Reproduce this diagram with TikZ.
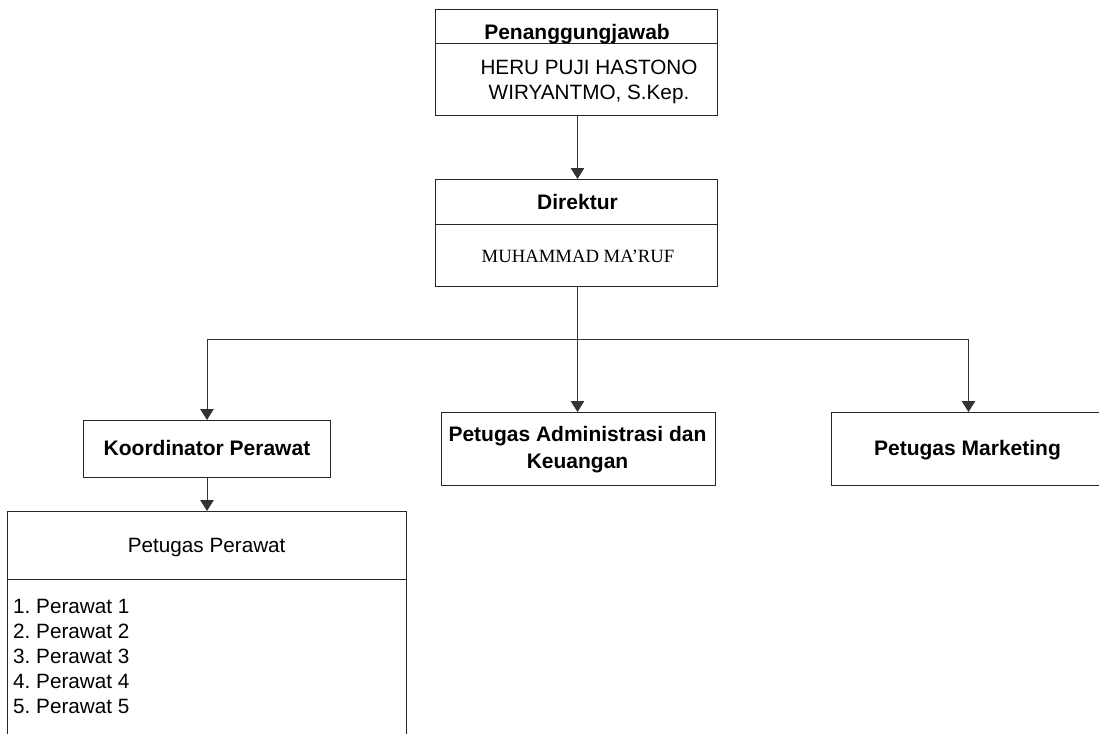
\documentclass[tikz,border=0pt]{standalone}
\usepackage{fontspec}
\setmainfont{Liberation Sans}
\newfontfamily\tnr{Liberation Serif}
\usetikzlibrary{arrows.meta}
\frenchspacing
\begin{document}
\begin{tikzpicture}[x=1pt,y=-1pt,
  box/.style={draw=black!85, line width=1pt, rectangle, inner sep=0pt, anchor=north west},
  arr/.style={draw=black!80, line width=0.9pt, -{Triangle[width=13.5pt,length=11pt]}},
  conn/.style={draw=black!80, line width=0.9pt},
  ttl/.style={inner sep=0pt, anchor=base, font=\bfseries\fontsize{21}{25}\selectfont},
  txt/.style={inner sep=0pt, anchor=base, font=\fontsize{20.7}{25}\selectfont},
  itm/.style={inner sep=0pt, anchor=base west, font=\fontsize{20.7}{25}\selectfont},
  nm/.style={inner sep=0pt, anchor=base, font=\tnr\fontsize{18.7}{22}\selectfont}]
\clip (0,0) rectangle (1099,733);
\fill[white] (0,0) rectangle (1099,733);

% Penanggungjawab
\node[box, minimum width=282pt, minimum height=34pt] (pjt) at (435,9) {};
\node[box, minimum width=282pt, minimum height=72pt] (pjn) at (435,43) {};
\node[ttl] (pjtt) at (577,39.5) {Penanggungjawab};
\node[txt] (pjn1) at (589,75) {HERU PUJI HASTONO};
\node[txt] (pjn2) at (589,100) {WIRYANTMO, S.Kep.};

% Direktur
\node[box, minimum width=282pt, minimum height=45pt] (dt) at (435,179) {};
\node[box, minimum width=282pt, minimum height=62pt] (dn) at (435,224) {};
\node[ttl] (dtt) at (577.5,209.5) {Direktur};
\node[nm] (dnn) at (578,262.3) {MUHAMMAD MA’RUF};

% Second level
\node[box, minimum width=247pt, minimum height=57pt] (ko) at (83,420) {};
\node[ttl] (kot) at (207,455) {Koordinator Perawat};

\node[box, minimum width=274pt, minimum height=72.5pt] (ad) at (441,412) {};
\node[ttl] (ad1) at (577.5,441.7) {Petugas Administrasi dan};
\node[ttl] (ad2) at (577.5,468) {Keuangan};

\node[box, minimum width=274pt, minimum height=72.5pt] (mk) at (831,412) {};
\node[ttl] (mkt) at (967.5,455) {Petugas Marketing};

% Petugas Perawat
\node[box, minimum width=399pt, minimum height=68pt] (pt) at (7,511) {};
\node[box, minimum width=399pt, minimum height=170pt] (pl) at (7,579) {};
\node[txt] (ptt) at (206.7,552.7) {Petugas Perawat};
\node[itm] (l1) at (13,613.3) {1. Perawat 1};
\node[itm] (l2) at (13,638.3) {2. Perawat 2};
\node[itm] (l3) at (13,663.3) {3. Perawat 3};
\node[itm] (l4) at (13,688.3) {4. Perawat 4};
\node[itm] (l5) at (13,713.3) {5. Perawat 5};

% Connectors
\coordinate (j) at (577.5,339);
\draw[arr] (pjn.south -| j) -- (dt.north -| j);
\draw[conn] (dn.south -| j) -- (j);
\draw[arr] (j) -- (ad.north -| j);
\draw[arr] (j) -| (ko.north);
\draw[arr] (j) -| (mk.north);
\draw[arr] (ko.south) -- (pt.north -| ko.south);
\end{tikzpicture}
\end{document}
